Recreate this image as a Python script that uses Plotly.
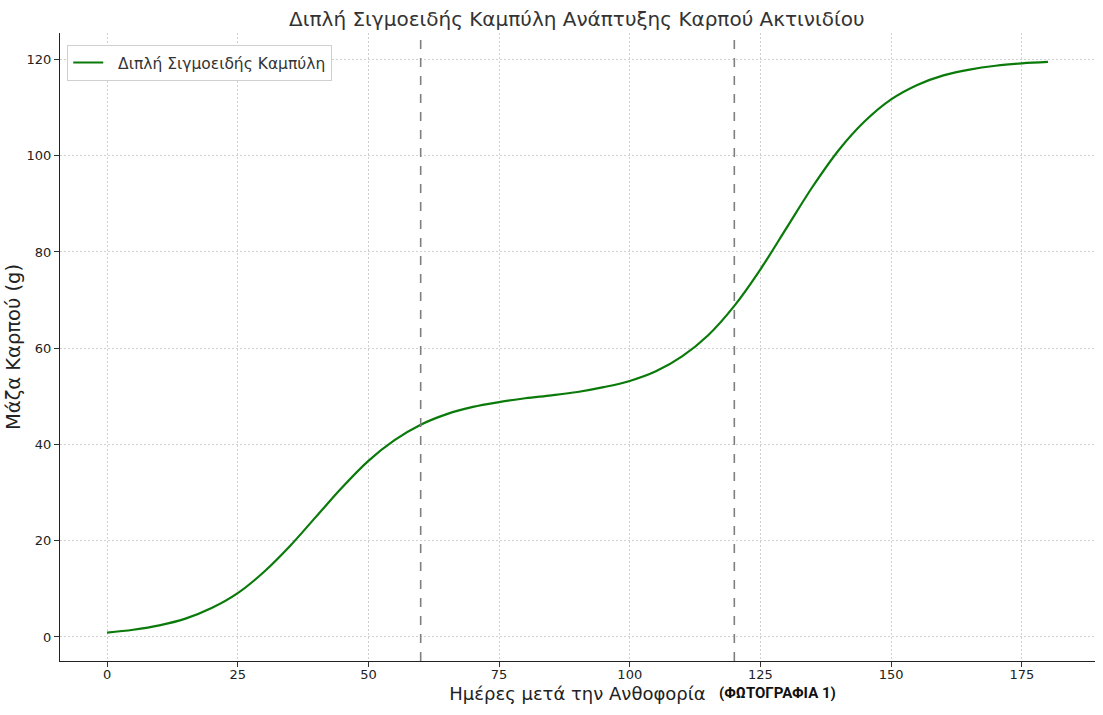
import plotly.graph_objects as go

# days after flowering and fruit mass (g)
days = [0, 5, 10, 15, 20, 25, 30, 35, 40, 45, 50, 55, 60, 65, 70, 75, 80, 85, 90,
        95, 100, 105, 110, 115, 120, 125, 130, 135, 140, 145, 150, 155, 160, 165,
        170, 175, 180]
mass = [0.9, 1.5, 2.4, 3.8, 6.0, 9.1, 13.5, 18.9, 25.0, 31.1, 36.6, 40.9, 44.1,
        46.3, 47.8, 48.8, 49.6, 50.2, 50.9, 51.9, 53.2, 55.2, 58.3, 62.7, 68.8,
        76.4, 85.0, 93.6, 101.2, 107.2, 111.7, 114.7, 116.7, 117.9, 118.7, 119.2,
        119.5]
phase_marks = [60, 120]
xticks = [0, 25, 50, 75, 100, 125, 150, 175]
yticks = [0, 20, 40, 60, 80, 100, 120]

font = "DejaVu Sans"

fig = go.Figure()
fig.add_trace(go.Scatter(x=days, y=mass, mode="lines",
                         line=dict(color="#0a7a0a", width=2.2, shape="spline"),
                         name="\u00a0\u00a0Διπλή Σιγμοειδής Καμπύλη"))

for d in phase_marks:
    fig.add_shape(type="line", x0=d, x1=d, y0=0, y1=1, xref="x", yref="paper",
                  line=dict(color="#7f7f7f", width=1.6, dash="dash"))

# label next to the x-axis title
fig.add_annotation(text="<b>(ΦΩΤΟΓΡΑΦΙΑ 1)</b>", x=0.635, y=-0.051, xref="paper", yref="paper",
                   showarrow=False, xanchor="left", yanchor="middle",
                   font=dict(family="Liberation Sans Narrow, Roboto", size=15, color="#111"))

fig.update_layout(
    width=1103, height=715,
    paper_bgcolor="white", plot_bgcolor="white",
    margin=dict(l=60, r=8, t=33, b=54),
    font=dict(family=font, color="#222"),
    title=dict(text="Διπλή Σιγμοειδής Καμπύλη Ανάπτυξης Καρπού Ακτινιδίου",
               x=0.523, xanchor="center", y=0.973, yanchor="middle",
               font=dict(size=20, color="#333")),
    showlegend=True,
    legend=dict(x=0.007, y=0.981, xanchor="left", yanchor="top",
                bgcolor="white", bordercolor="#d0d0d0", borderwidth=1,
                font=dict(size=15.5, color="#333")),
)

fig.update_xaxes(range=[-9, 189], tickvals=xticks, ticks="outside", ticklen=5,
                 tickcolor="#333", showline=True, linecolor="#222", linewidth=1.3,
                 showgrid=True, gridcolor="#d0d0d0", griddash="2px,2px", gridwidth=1,
                 zeroline=False, automargin=False, ticklabelstandoff=-4,
                 tickfont=dict(size=13, color="#222"),
                 title=dict(text="Ημέρες μετά την Ανθοφορία", standoff=6,
                            font=dict(size=18, color="#222")))
fig.update_yaxes(range=[-5, 125.5], tickvals=yticks, ticks="outside", ticklen=5,
                 tickcolor="#333", showline=True, linecolor="#222", linewidth=1.3,
                 showgrid=True, gridcolor="#d0d0d0", griddash="2px,2px", gridwidth=1,
                 zeroline=False, automargin=False, tickfont=dict(size=13, color="#222"),
                 title=dict(text="Μάζα Καρπού (g)", standoff=0,
                            font=dict(size=19.5, color="#222")))

# drop the page's default body margin so the figure sits at the window's corner
fig.write_html("out.html", config={"displayModeBar": False},
               post_script="document.body.style.margin='0';")
